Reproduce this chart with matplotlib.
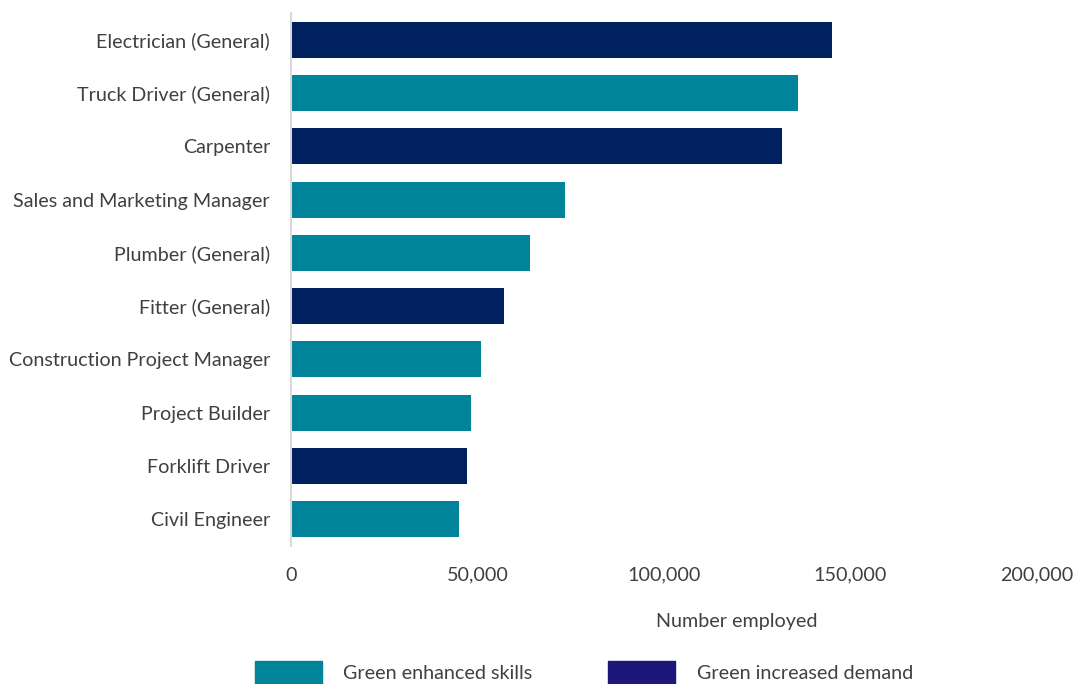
import matplotlib.pyplot as plt
from matplotlib.patches import Patch

# occupations, top to bottom
occupations = [
    "Electrician (General)",
    "Truck Driver (General)",
    "Carpenter",
    "Sales and Marketing Manager",
    "Plumber (General)",
    "Fitter (General)",
    "Construction Project Manager",
    "Project Builder",
    "Forklift Driver",
    "Civil Engineer",
]
employed = [145000, 136000, 131600, 73400, 64000, 57100, 51000, 48200, 47200, 45000]
group = ["demand", "enhanced", "demand", "enhanced", "enhanced",
         "demand", "enhanced", "enhanced", "demand", "enhanced"]

TEAL = "#00849A"
NAVY = "#002060"
LEGEND_NAVY = "#1C1778"
TEXT = "#404040"
FS = 14.2

plt.rcParams['font.family'] = ['Lato', 'DejaVu Sans']

fig = plt.figure(figsize=(10.76, 6.84), dpi=100)
ax = fig.add_axes([0.2704, 0.2018, 0.6934, 0.7792])

colors = [NAVY if g == "demand" else TEAL for g in group]
ypos = list(range(len(occupations)))
ax.barh(ypos, employed, height=0.675, color=colors)
ax.set_ylim(len(occupations) - 0.5, -0.5)
ax.set_xlim(0, 200000)
ax.set_yticks(ypos)
ax.set_yticklabels(occupations, fontsize=FS, color=TEXT)
ax.set_xticks([0, 50000, 100000, 150000, 200000])
ax.set_xticklabels(["0", "50,000", "100,000", "150,000", "200,000"],
                   fontsize=FS, color=TEXT)
ax.tick_params(length=0)
ax.tick_params(axis='x', pad=15)
ax.tick_params(axis='y', pad=15)
for s in ["top", "right", "bottom"]:
    ax.spines[s].set_visible(False)
ax.spines["left"].set_color("#D9D9D9")
ax.spines["left"].set_linewidth(1.5)

fig.text(737 / 1076, 1 - 621 / 684, "Number employed", ha="center", va="center",
         fontsize=FS, color=TEXT)

handles = [Patch(color=TEAL, label="Green enhanced skills"),
           Patch(color=LEGEND_NAVY, label="Green increased demand")]
fig.legend(handles=handles, loc="lower left", bbox_to_anchor=(245 / 1076, -0.014),
           ncol=2, frameon=False, fontsize=FS, labelcolor=TEXT,
           handlelength=3.4, handleheight=1.42, handletextpad=1.07,
           columnspacing=3.86, borderpad=0)

fig.savefig("out.png", dpi=100)
